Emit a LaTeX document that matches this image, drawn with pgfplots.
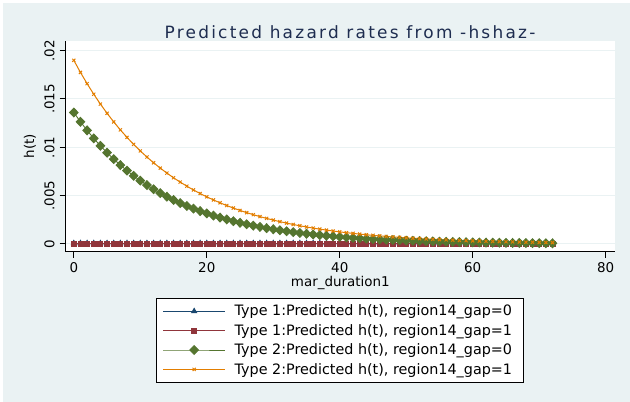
\documentclass[border=0pt]{standalone}
\usepackage{fontspec}
\setmainfont{DejaVu Sans}
\newfontfamily\titlefont[LetterSpace=13.3]{DejaVu Sans}
\usepackage{pgfplots}
\usepackage{pgfplotstable}
\pgfplotsset{compat=1.18}
\definecolor{bgc}{RGB}{234,242,243}
\definecolor{snavy}{RGB}{26,71,111}
\definecolor{smaroon}{RGB}{144,53,59}
\definecolor{sgreen}{RGB}{85,117,47}
\definecolor{sorange}{RGB}{227,126,0}
\definecolor{titlec}{RGB}{30,45,80}

\pgfplotstableread{
x y
0 0.000080
1 0.000080
2 0.000080
3 0.000080
4 0.000080
5 0.000080
6 0.000080
7 0.000080
8 0.000080
9 0.000080
10 0.000080
11 0.000080
12 0.000080
13 0.000080
14 0.000080
15 0.000080
16 0.000080
17 0.000080
18 0.000080
19 0.000080
20 0.000080
21 0.000080
22 0.000080
23 0.000080
24 0.000080
25 0.000080
26 0.000080
27 0.000080
28 0.000080
29 0.000080
30 0.000080
31 0.000080
32 0.000080
33 0.000080
34 0.000080
35 0.000080
36 0.000080
37 0.000080
38 0.000080
39 0.000080
40 0.000080
41 0.000080
42 0.000080
43 0.000080
44 0.000080
45 0.000080
46 0.000080
47 0.000080
48 0.000080
49 0.000080
50 0.000080
51 0.000080
52 0.000080
53 0.000080
54 0.000080
55 0.000080
56 0.000080
57 0.000080
58 0.000080
59 0.000080
60 0.000080
61 0.000080
62 0.000080
63 0.000080
64 0.000080
65 0.000080
66 0.000080
67 0.000080
68 0.000080
69 0.000080
70 0.000080
71 0.000080
72 0.000080
}\tblue

\pgfplotstableread{
x y
0 0.000020
1 0.000020
2 0.000020
3 0.000020
4 0.000020
5 0.000020
6 0.000020
7 0.000020
8 0.000020
9 0.000020
10 0.000020
11 0.000020
12 0.000020
13 0.000020
14 0.000020
15 0.000020
16 0.000020
17 0.000020
18 0.000020
19 0.000020
20 0.000020
21 0.000020
22 0.000020
23 0.000020
24 0.000020
25 0.000020
26 0.000020
27 0.000020
28 0.000020
29 0.000020
30 0.000020
31 0.000020
32 0.000020
33 0.000020
34 0.000020
35 0.000020
36 0.000020
37 0.000020
38 0.000020
39 0.000020
40 0.000020
41 0.000020
42 0.000020
43 0.000020
44 0.000020
45 0.000020
46 0.000020
47 0.000020
48 0.000020
49 0.000020
50 0.000020
51 0.000020
52 0.000020
53 0.000020
54 0.000020
55 0.000020
56 0.000020
57 0.000020
58 0.000020
59 0.000020
60 0.000020
61 0.000020
62 0.000020
63 0.000020
64 0.000020
65 0.000020
66 0.000020
67 0.000020
68 0.000020
69 0.000020
70 0.000020
71 0.000020
72 0.000020
}\tred

\pgfplotstableread{
x y
0 0.013600
1 0.012643
2 0.011753
3 0.010925
4 0.010156
5 0.009441
6 0.008777
7 0.008159
8 0.007584
9 0.007050
10 0.006554
11 0.006093
12 0.005664
13 0.005265
14 0.004894
15 0.004550
16 0.004229
17 0.003932
18 0.003655
19 0.003398
20 0.003158
21 0.002936
22 0.002729
23 0.002537
24 0.002359
25 0.002193
26 0.002038
27 0.001895
28 0.001761
29 0.001637
30 0.001522
31 0.001415
32 0.001315
33 0.001223
34 0.001137
35 0.001057
36 0.000982
37 0.000913
38 0.000849
39 0.000789
40 0.000734
41 0.000682
42 0.000634
43 0.000589
44 0.000548
45 0.000509
46 0.000473
47 0.000440
48 0.000409
49 0.000380
50 0.000354
51 0.000329
52 0.000306
53 0.000284
54 0.000264
55 0.000245
56 0.000228
57 0.000212
58 0.000197
59 0.000183
60 0.000170
61 0.000158
62 0.000147
63 0.000137
64 0.000127
65 0.000118
66 0.000110
67 0.000102
68 0.000095
69 0.000088
70 0.000082
71 0.000076
72 0.000071
}\tgreen

\pgfplotstableread{
x y
0 0.019000
1 0.017751
2 0.016584
3 0.015494
4 0.014475
5 0.013524
6 0.012635
7 0.011804
8 0.011028
9 0.010303
10 0.009626
11 0.008993
12 0.008402
13 0.007849
14 0.007333
15 0.006851
16 0.006401
17 0.005980
18 0.005587
19 0.005220
20 0.004877
21 0.004556
22 0.004257
23 0.003977
24 0.003715
25 0.003471
26 0.003243
27 0.003030
28 0.002831
29 0.002645
30 0.002471
31 0.002308
32 0.002157
33 0.002015
34 0.001882
35 0.001759
36 0.001643
37 0.001535
38 0.001434
39 0.001340
40 0.001252
41 0.001169
42 0.001093
43 0.001021
44 0.000954
45 0.000891
46 0.000832
47 0.000778
48 0.000727
49 0.000679
50 0.000634
51 0.000593
52 0.000554
53 0.000517
54 0.000483
55 0.000451
56 0.000422
57 0.000394
58 0.000368
59 0.000344
60 0.000321
61 0.000300
62 0.000280
63 0.000262
64 0.000245
65 0.000229
66 0.000214
67 0.000200
68 0.000186
69 0.000174
70 0.000163
71 0.000152
72 0.000142
}\torange

\begin{document}
\begin{tikzpicture}
\useasboundingbox (0,0) rectangle (630bp,402bp);
\fill[white] (0,0) rectangle (630bp,402bp);
\fill[bgc] (3bp,0) rectangle (630bp,399bp);
\begin{axis}[
  at={(65.7bp,150.3bp)}, anchor=south west,
  scale only axis, width=549.3bp, height=210.7bp,
  xmin=-1.22, xmax=81.4, ymin=-0.0008, ymax=0.0210,
  axis lines*=left,
  axis line style={black, line width=1.1bp},
  axis background/.style={fill=white},
  xtick={0,20,40,60,80}, xticklabels={0,20,40,60,80},
  ytick={0,0.005,0.01,0.015,0.02}, yticklabels={0,.005,.01,.015,.02},
  scaled y ticks=false,
  /pgf/number format/assume math mode=true,
  tick align=outside, major tick length=6bp,
  tick style={black, line width=1bp},
  ymajorgrids, grid style={bgc, line width=1bp},
  ticklabel style={font=\fontsize{13.5}{16}\selectfont},
  yticklabel style={rotate=90, anchor=south, inner sep=0pt},
  xticklabel style={anchor=north, inner sep=0pt},
  yticklabel shift=5bp, xticklabel shift=5bp,
  xlabel={mar\_duration1}, ylabel={h(t)},
  every axis x label/.style={at={(0.5,-0.1486)}, anchor=center, font=\fontsize{13.5}{16}\selectfont},
  every axis y label/.style={at={(-0.065,0.5)}, rotate=90, anchor=center, font=\fontsize{13.5}{16}\selectfont},
  title={\titlefont Predicted hazard rates from -hshaz-},
  every axis title/.style={at={(0.5176,1.0441)}, anchor=center, font=\fontsize{17}{20}\selectfont, text=titlec},
  clip=false,
  legend image code/.code={\draw[mark repeat=2,mark phase=2] plot coordinates {(0bp,0bp)(31bp,0bp)(62bp,0bp)};},
  legend style={at={(0.5,-0.2197)}, anchor=north, draw=black, fill=white,
    line width=1bp, font=\fontsize{14.4}{16}\selectfont,
    inner xsep=5.7bp, inner ysep=3bp, row sep=0pt, column sep=9bp,
    nodes={inner sep=0pt, minimum height=19.4bp}},
  legend cell align=left,
]
\addplot[snavy, line width=0.9bp, mark=triangle*, mark size=2.8bp, mark options={solid}] table[x=x,y=y] {\tblue};
\addlegendentry{Type 1:Predicted h(t), region14\_gap=0\rule{6bp}{0pt}}
\addplot[smaroon, line width=0.9bp, mark=square*, mark size=2.5bp] table[x=x,y=y] {\tred};
\addlegendentry{Type 1:Predicted h(t), region14\_gap=1}
\addplot[sgreen, line width=0.9bp, mark=diamond*, mark size=4.4bp, mark options={xscale=1.3}] table[x=x,y=y] {\tgreen};
\addlegendentry{Type 2:Predicted h(t), region14\_gap=0}
\addplot[sorange, line width=1bp, mark=x, mark size=2.2bp] table[x=x,y=y] {\torange};
\addlegendentry{Type 2:Predicted h(t), region14\_gap=1}
\end{axis}
\end{tikzpicture}
\end{document}
